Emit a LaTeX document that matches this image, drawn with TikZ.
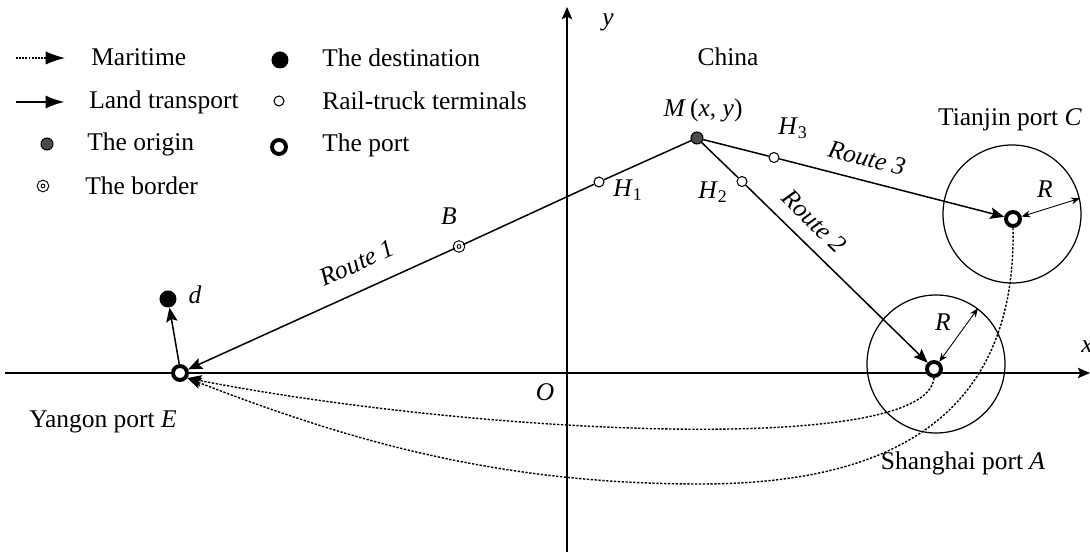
\documentclass[tikz,border=0pt]{standalone}
\usepackage{fontspec}
\setmainfont{Liberation Serif}
\usetikzlibrary{arrows.meta, positioning}

\begin{document}
\begin{tikzpicture}[
    font=\fontsize{14.5}{17}\selectfont,
    axis/.style={-{Stealth[length=7pt,width=6pt,inset=1.5pt]}, line width=0.7pt},
    land/.style={-{Stealth[length=8pt,width=6.5pt,inset=1.5pt]}, line width=0.85pt},
    sea/.style={-{Stealth[length=8pt,width=6.5pt,inset=1.5pt]}, line width=0.8pt,
                dash pattern=on 1.3pt off 0.9pt},
    landkey/.style={-{Latex[length=11pt,width=7.5pt]}, line width=1.6pt},
    seakey/.style={-{Latex[length=11pt,width=7.5pt]}, line width=0.7pt,
                   dash pattern=on 1pt off 0.8pt},
    radius/.style={{Stealth[length=5pt,width=4pt]}-{Stealth[length=5pt,width=4pt]},
                   line width=0.5pt},
    zone/.style={circle, draw, line width=0.7pt, minimum size=2.76cm, inner sep=0pt},
    portnode/.style={circle, draw, line width=2.2pt, fill=white,
                     minimum size=0.28cm, inner sep=0pt},
    termnode/.style={circle, draw, line width=0.6pt, fill=white,
                     minimum size=0.2cm, inner sep=0pt},
    originnode/.style={circle, draw, line width=0.6pt, fill=black!70,
                       minimum size=0.24cm, inner sep=0pt},
    destnode/.style={circle, fill=black, minimum size=0.34cm, inner sep=0pt},
    bordernode/.style={circle, draw, line width=0.6pt, double=white,
                       double distance=1.4pt, fill=white,
                       minimum size=4.4pt, inner sep=0pt},
    keytext/.style={anchor=west, inner sep=0pt},
]
\useasboundingbox (-11.34,-3.58) rectangle (10.46,7.46);

% ---------------- legend ----------------
\coordinate (ms0) at (-11.02,6.30);
\coordinate (ms1) at (-10.04,6.30);
\coordinate (ld0) at (-11.02,5.42);
\coordinate (ld1) at (-10.04,5.42);
\draw[seakey] (ms0) -- (ms1);
\draw[landkey] (ld0) -- (ld1);
\node[keytext] (kmar) at (-9.52,6.32) {Maritime};
\node[keytext] (kland) at (-9.56,5.42) {Land transport};
\node[originnode] (korig) at (-10.40,4.58) {};
\node[keytext] (korigt) at (-9.60,4.58) {The origin};
\node[bordernode] (kbord) at (-10.48,3.74) {};
\node[keytext] (kbordt) at (-9.64,3.74) {The border};
\node[destnode] (kdest) at (-5.74,6.26) {};
\node[keytext] (kdestt) at (-4.90,6.30) {The destination};
\node[termnode] (kterm) at (-5.76,5.44) {};
\node[keytext] (ktermt) at (-4.90,5.44) {Rail-truck terminals};
\node[portnode] (kport) at (-5.76,4.52) {};
\node[keytext] (kportt) at (-4.90,4.56) {The port};

% ---------------- axes ----------------
\coordinate (xa0) at (-11.24,0);
\coordinate (xa1) at (10.46,0);
\coordinate (ya0) at (0,-3.58);
\coordinate (ya1) at (0,7.32);
\draw[axis] (xa0) -- (xa1);
\draw[axis] (ya0) -- (ya1);
\node (xlbl) at (10.40,0.52) {\textit{x}};
\node (ylbl) at (0.82,7.02) {\textit{y}};
\node (olbl) at (-0.44,-0.38) {\textit{O}};

% ---------------- port zones ----------------
\node[zone] (zoneA) at (7.38,0.18) {};
\node[zone] (zoneC) at (8.90,3.18) {};

% ---------------- places ----------------
\node[portnode] (E) at (-7.74,0) {};
\node[portnode] (A) at (7.34,0.08) {};
\node[portnode] (C) at (8.92,3.08) {};
\node[originnode] (M) at (2.60,4.70) {};
\node[termnode] (H1) at (0.64,3.82) {};
\node[termnode] (H2) at (3.50,3.83) {};
\node[termnode] (H3) at (4.14,4.31) {};
\node[bordernode] (B) at (-2.16,2.53) {};
\node[destnode] (d) at (-7.98,1.48) {};

% routes
\draw[land] (M) -- (H1) -- (B) -- (E);
\draw[land] (M) -- (H2) -- (A);
\draw[land] (M) -- (H3) -- (C);
\draw[land] (E.95) -- (d);

% maritime legs to Yangon
\draw[sea] (A.south) .. controls (7.20,-1.70) and (-2.00,-1.20) .. (E.-35);
\draw[sea] (C.south) .. controls (9.00,-1.20) and (6.00,-2.22) .. (2.66,-2.22)
           .. controls (-1.50,-2.22) and (-4.50,-1.30) .. (E.-35);

% radius marks
\draw[radius] (A.54) -- (zoneA.53);
\draw[radius] (C.16) -- (zoneC.13);

% ---------------- labels ----------------
\node (Mlbl) at (2.72,5.26) {\textit{M}\,(\textit{x}, \textit{y})};
\node (H1lbl) at (1.22,3.66) {\textit{H}\textsubscript{1}};
\node (H2lbl) at (2.92,3.62) {\textit{H}\textsubscript{2}};
\node (H3lbl) at (4.52,4.90) {\textit{H}\textsubscript{3}};
\node (Blbl) at (-2.36,3.14) {\textit{B}};
\node (dlbl) at (-7.44,1.56) {\textit{d}};
\node (china) at (3.22,6.32) {China};
\node (tianjin) at (8.86,5.06) {Tianjin port \textit{C}};
\node (shanghai) at (7.92,-1.80) {Shanghai port \textit{A}};
\node (yangon) at (-9.28,-0.98) {Yangon port \textit{E}};
\node (RA) at (7.52,1.02) {\textit{R}};
\node (RC) at (9.56,3.68) {\textit{R}};
\node[rotate=24.4] (r1) at (-4.20,2.20) {\textit{Route 1}};
\node[rotate=-44.3] (r2) at (4.94,3.04) {\textit{Route 2}};
\node[rotate=-14.4] (r3) at (6.00,4.30) {\textit{Route 3}};

\end{tikzpicture}
\end{document}
